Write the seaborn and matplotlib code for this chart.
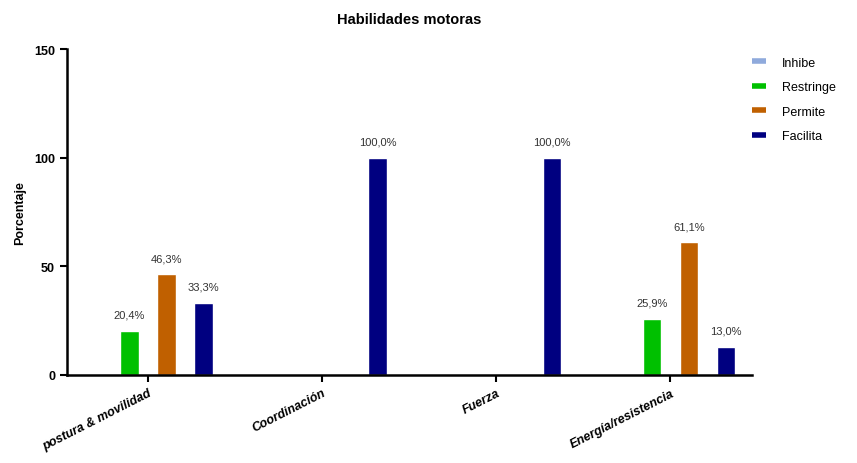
import matplotlib
matplotlib.use("Agg")
import matplotlib.pyplot as plt
from matplotlib.lines import Line2D
import seaborn as sns
import pandas as pd

categories = ["postura & movilidad", "Coordinación", "Fuerza", "Energía/resistencia"]
levels = ["Inhibe", "Restringe", "Permite", "Facilita"]
inhibe = [0.0, 0.0, 0.0, 0.0]
restringe = [20.4, 0.0, 0.0, 25.9]
permite = [46.3, 0.0, 0.0, 61.1]
facilita = [33.3, 100.0, 100.0, 13.0]
colors = ["#8FAADC", "#00C000", "#C06000", "#000080"]

rows = []
for lvl, vals in zip(levels, [inhibe, restringe, permite, facilita]):
    for c, v in zip(categories, vals):
        rows.append({"cat": c, "nivel": lvl, "valor": v})
df = pd.DataFrame(rows)

sns.set_style("white")
plt.rcParams["font.family"] = ["Liberation Sans", "DejaVu Sans"]
plt.rcParams["text.color"] = "black"
plt.rcParams["axes.labelcolor"] = "black"
plt.rcParams["xtick.color"] = "black"
plt.rcParams["ytick.color"] = "black"

fig = plt.figure(figsize=(8.57, 4.64), dpi=100)
ax = fig.add_axes([0.078, 0.19, 0.799, 0.702])

sns.barplot(data=df, x="cat", y="valor", hue="nivel", order=categories,
            hue_order=levels, palette=colors, width=0.85, gap=0.5,
            errorbar=None, legend=False, ax=ax, saturation=1)

for cont, vals in zip(ax.containers, [inhibe, restringe, permite, facilita]):
    for bar, v in zip(cont, vals):
        if v > 0:
            ax.annotate(f"{v:.1f}%".replace(".", ","),
                        (bar.get_x() + bar.get_width() / 2, bar.get_height()),
                        xytext=(0, 8), textcoords="offset points",
                        ha="center", va="bottom", fontsize=8, color="#333333")

ax.set_xlim(-0.466, 3.466)
ax.set_ylim(0, 150)
ax.set_yticks([0, 50, 100, 150])
ax.set_xlabel("")
ax.set_ylabel("Porcentaje", fontsize=9, fontweight="bold", labelpad=6, color="black")
ax.set_title("Habilidades motoras", fontsize=10.5, fontweight="bold", pad=19, color="black")
sns.despine(ax=ax)
for s in ["left", "bottom"]:
    ax.spines[s].set_linewidth(1.8)
    ax.spines[s].set_color("black")
ax.tick_params(axis="both", direction="out", length=5, width=1.5, colors="black",
               left=True, bottom=True)
for lab in ax.get_yticklabels():
    lab.set_fontweight("bold")
    lab.set_fontsize(9)
ax.set_xticks(range(len(categories)))
ax.set_xticklabels(categories, rotation=27, ha="right", rotation_mode="anchor",
                   fontsize=9, fontweight="bold", fontstyle="italic")

handles = [Line2D([0], [0], color=c, lw=4, solid_capstyle="butt") for c in colors]
ax.legend(handles, levels, loc="upper left", bbox_to_anchor=(0.99, 1.0),
          frameon=False, fontsize=9, handlelength=1.1, labelspacing=1.0,
          handletextpad=1.3, borderaxespad=0.2)

fig.savefig("out.png", dpi=100)
